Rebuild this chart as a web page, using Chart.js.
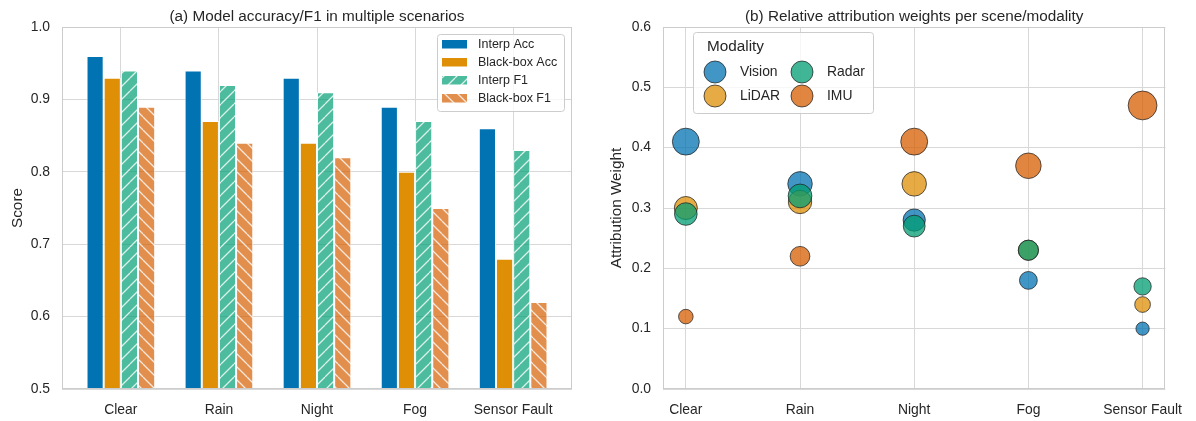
<!DOCTYPE html>
<html>
<head>
<meta charset="utf-8">
<title>Scenario accuracy and modality attribution</title>
<script src="https://cdn.jsdelivr.net/npm/chart.js@4.4.1/dist/chart.umd.min.js"></script>
<style>
  html, body { margin: 0; padding: 0; background: #ffffff; }
  #wrap { position: relative; width: 1196px; height: 421px; overflow: hidden; }
  #wrap canvas { position: absolute; top: 0; }
  #accChart { left: 0; }
  #attrChart { left: 598px; }
</style>
</head>
<body>
<div id="wrap">
  <canvas id="accChart" width="598" height="421"></canvas>
  <canvas id="attrChart" width="598" height="421"></canvas>
</div>
<script>
// ---- data ----
const scenarios = ['Clear', 'Rain', 'Night', 'Fog', 'Sensor Fault'];

const interpAcc   = [0.96, 0.94, 0.93, 0.89, 0.86];
const blackboxAcc = [0.93, 0.87, 0.84, 0.80, 0.68];
const interpF1    = [0.94, 0.92, 0.91, 0.87, 0.83];
const blackboxF1  = [0.89, 0.84, 0.82, 0.75, 0.62];
const scoreTicks  = [0.5, 0.6, 0.7, 0.8, 0.9, 1.0];

const modalities = ['Vision', 'LiDAR', 'Radar', 'IMU'];
const visionW = [0.41, 0.34, 0.28, 0.18, 0.10];
const lidarW  = [0.30, 0.31, 0.34, 0.23, 0.14];
const radarW  = [0.29, 0.32, 0.27, 0.23, 0.17];
const imuW    = [0.12, 0.22, 0.41, 0.37, 0.47];
const weightTicks = [0.0, 0.1, 0.2, 0.3, 0.4, 0.5, 0.6];

// ---- shared styling ----
const FONT = "'Liberation Sans', Arial, Helvetica, sans-serif";
const TEXT = '#262626';
const GRID = '#d8d8d8';
const FRAME = '#cccccc';
Chart.defaults.font.family = FONT;
Chart.defaults.color = TEXT;

const toXY = arr => arr.map((v, i) => ({ x: i, y: v }));

// diagonal hatch fill: '/' rises to the right, '\\' falls to the right
function hatch(fill, dir) {
  const s = 13;
  const c = document.createElement('canvas');
  c.width = s; c.height = s;
  const g = c.getContext('2d');
  g.fillStyle = fill;
  g.fillRect(0, 0, s, s);
  g.strokeStyle = 'rgba(255,255,255,0.8)';
  g.lineWidth = 1.3;
  g.beginPath();
  for (let k = -1; k <= 1; k++) {
    if (dir === '/') { g.moveTo(k * s, s); g.lineTo(k * s + s, 0); }
    else { g.moveTo(k * s, 0); g.lineTo(k * s + s, s); }
  }
  g.stroke();
  return g.createPattern(c, 'repeat');
}

// frame around the plotting area
const framePlugin = {
  id: 'frame',
  afterDatasetsDraw(chart) {
    const { ctx, chartArea: a } = chart;
    ctx.save();
    ctx.strokeStyle = FRAME;
    ctx.lineWidth = 1;
    ctx.strokeRect(Math.round(a.left) + 0.5, Math.round(a.top) + 0.5,
                   Math.round(a.right - a.left) - 1, Math.round(a.bottom - a.top) - 1);
    ctx.restore();
  }
};

// panel heading above the plotting area
const panelTitle = {
  id: 'panelTitle',
  afterDraw(chart, args, opts) {
    const { ctx, chartArea: a } = chart;
    ctx.save();
    ctx.font = `15.3px ${FONT}`;
    ctx.fillStyle = TEXT;
    ctx.textAlign = 'center';
    ctx.textBaseline = 'alphabetic';
    ctx.fillText(opts.text, (a.left + a.right) / 2, opts.baseline);
    ctx.restore();
  }
};

function legendBox(ctx, x, y, w, h) {
  ctx.save();
  ctx.beginPath();
  ctx.roundRect(x + 0.5, y + 0.5, w, h, 3);
  ctx.fillStyle = 'rgba(255,255,255,0.8)';
  ctx.fill();
  ctx.strokeStyle = FRAME;
  ctx.lineWidth = 1;
  ctx.stroke();
  ctx.restore();
}

// boxed legend in the upper right of the bar panel
const barLegend = {
  id: 'barLegend',
  afterDraw(chart) {
    const { ctx, chartArea: a } = chart;
    const x0 = a.right - 135, y0 = a.top + 7;
    legendBox(ctx, x0, y0, 127, 77);
    ctx.save();
    ctx.font = `12.5px ${FONT}`;
    ctx.textBaseline = 'middle';
    chart.data.datasets.forEach((ds, i) => {
      const cy = y0 + 10 + i * 18;
      ctx.fillStyle = ds.backgroundColor;
      ctx.fillRect(x0 + 5, cy - 4, 25, 8.5);
      ctx.fillStyle = TEXT;
      ctx.fillText(ds.label, x0 + 41, cy + 0.5);
    });
    ctx.restore();
  }
};

// two-column legend with heading for the bubble panel
const bubbleLegend = {
  id: 'bubbleLegend',
  afterDraw(chart) {
    const { ctx, chartArea: a } = chart;
    const x0 = a.left + 30, y0 = a.top + 5;
    legendBox(ctx, x0, y0, 180, 81);
    ctx.save();
    ctx.textBaseline = 'middle';
    ctx.fillStyle = TEXT;
    ctx.font = `15.3px ${FONT}`;
    ctx.fillText('Modality', x0 + 14, y0 + 15);
    ctx.font = `13.9px ${FONT}`;
    chart.data.datasets.forEach((ds, i) => {
      const col = Math.floor(i / 2), row = i % 2;
      const cx = x0 + 22 + col * 87, cy = y0 + 40 + row * 24;
      ctx.beginPath();
      ctx.arc(cx, cy, 11, 0, Math.PI * 2);
      ctx.fillStyle = ds.backgroundColor;
      ctx.fill();
      ctx.strokeStyle = ds.borderColor;
      ctx.lineWidth = 1;
      ctx.stroke();
      ctx.fillStyle = TEXT;
      ctx.fillText(ds.label, cx + 25, cy + 0.5);
    });
    ctx.restore();
  }
};

const tickFont = { size: 13.9 };

function categoryAxis(lo, hi) {
  return {
    type: 'linear',
    min: lo, max: hi,
    offset: false,
    afterBuildTicks: s => { s.ticks = scenarios.map((_, i) => ({ value: i })); },
    afterFit: s => { s.height = 32; },
    ticks: { callback: v => scenarios[v], font: tickFont, padding: 13, autoSkip: false, maxRotation: 0 },
    grid: { color: GRID, lineWidth: 1, drawTicks: false, offset: false },
    border: { display: false }
  };
}

function valueAxis(lo, hi, tickList, width, title, titlePad) {
  return {
    min: lo, max: hi,
    afterBuildTicks: s => { s.ticks = tickList.map(v => ({ value: v })); },
    afterFit: s => { s.width = width; },
    ticks: { callback: v => v.toFixed(1), font: tickFont, padding: 12 },
    grid: { color: GRID, lineWidth: 1, drawTicks: false },
    border: { display: false },
    title: { display: true, text: title, font: { size: 15.3 }, color: TEXT, padding: { top: titlePad, bottom: 0 } }
  };
}

// ---- (a) grouped bars ----
const barBorder = 'rgba(255,255,255,0.85)';
new Chart(document.getElementById('accChart'), {
  type: 'bar',
  data: {
    datasets: [
      { label: 'Interp Acc',    data: toXY(interpAcc),   backgroundColor: '#0173b2', borderColor: barBorder, borderWidth: 1 },
      { label: 'Black-box Acc', data: toXY(blackboxAcc), backgroundColor: '#de8f05', borderColor: barBorder, borderWidth: 1 },
      { label: 'Interp F1',     data: toXY(interpF1),    backgroundColor: hatch('rgba(2,158,115,0.7)', '/'),  borderColor: barBorder, borderWidth: 1 },
      { label: 'Black-box F1',  data: toXY(blackboxF1),  backgroundColor: hatch('rgba(213,94,0,0.7)', '\\'), borderColor: barBorder, borderWidth: 1 }
    ]
  },
  options: {
    responsive: false, animation: false, events: [],
    layout: { padding: { left: 0, top: 27, right: 26, bottom: 0 } },
    datasets: { bar: { categoryPercentage: 0.7, barPercentage: 1.0 } },
    plugins: {
      legend: { display: false }, tooltip: { enabled: false },
      panelTitle: { text: '(a) Model accuracy/F1 in multiple scenarios', baseline: 20.5 }
    },
    scales: {
      x: categoryAxis(-0.6, 4.6),
      y: valueAxis(0.5, 1.0, scoreTicks, 62, 'Score', 8.3)
    }
  },
  plugins: [framePlugin, panelTitle, barLegend]
});

// ---- (b) bubble scatter, marker area proportional to weight ----
const bubbleEdge = 'rgba(35,35,35,0.75)';
const bubbleRadius = ctx => (ctx.raw ? 21 * Math.sqrt(ctx.raw.y) : 4);
const weightSeries = [visionW, lidarW, radarW, imuW];
const bubbleFill = ['rgba(1,115,178,0.75)', 'rgba(222,143,5,0.75)', 'rgba(2,158,115,0.75)', 'rgba(213,94,0,0.75)'];

new Chart(document.getElementById('attrChart'), {
  type: 'scatter',
  data: {
    datasets: modalities.map((m, i) => ({
      label: m,
      data: toXY(weightSeries[i]),
      backgroundColor: bubbleFill[i],
      borderColor: bubbleEdge,
      borderWidth: 1,
      pointRadius: bubbleRadius,
      order: modalities.length - i   // later modalities drawn on top
    }))
  },
  options: {
    responsive: false, animation: false, events: [],
    layout: { padding: { left: 0, top: 27, right: 23, bottom: 0 } },
    plugins: {
      legend: { display: false }, tooltip: { enabled: false },
      panelTitle: { text: '(b) Relative attribution weights per scene/modality', baseline: 20.5 }
    },
    scales: {
      x: categoryAxis(-0.2, 4.2),
      y: valueAxis(0, 0.6, weightTicks, 65, 'Attribution Weight', 9.8)
    }
  },
  plugins: [framePlugin, panelTitle, bubbleLegend]
});
</script>
</body>
</html>
